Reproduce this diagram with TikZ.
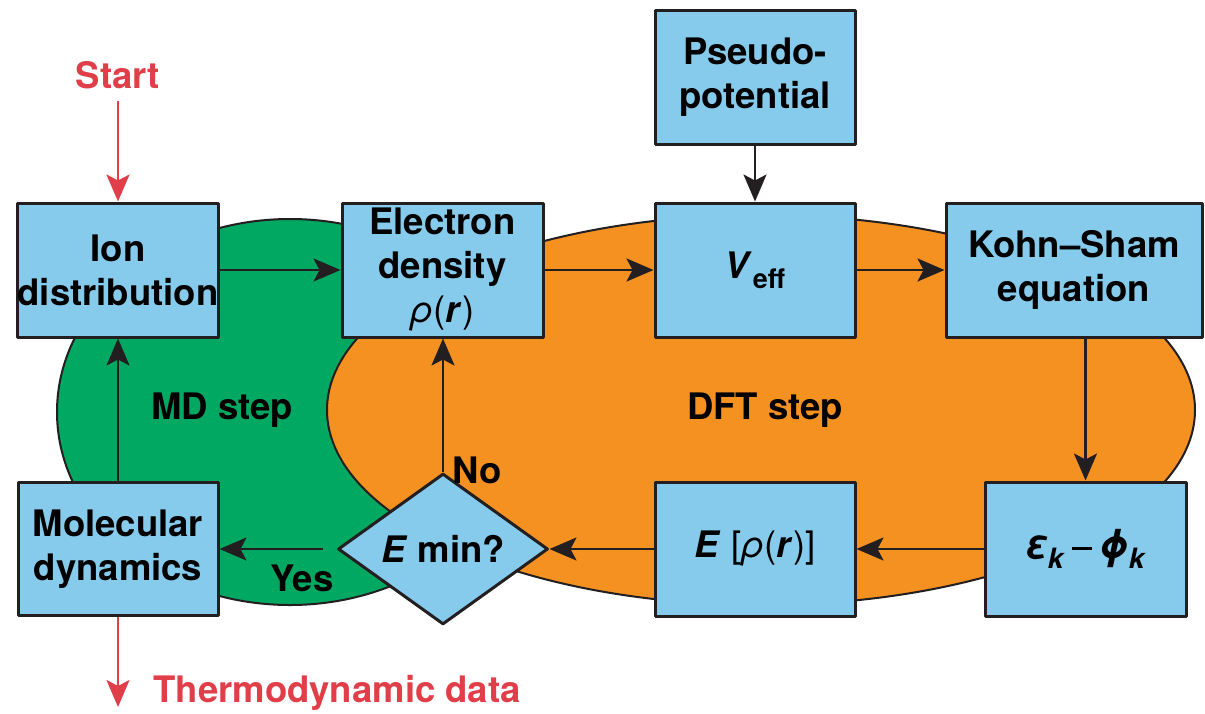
\documentclass[tikz,border=0pt]{standalone}
\usepackage{fontspec}
\setmainfont{TeX Gyre Heros}
\usetikzlibrary{arrows.meta,shapes.geometric}

\definecolor{boxblue}{RGB}{135,203,236}
\definecolor{mdgreen}{RGB}{0,168,98}
\definecolor{dftorange}{RGB}{245,145,32}
\definecolor{inkline}{RGB}{35,31,32}
\definecolor{startred}{RGB}{224,62,72}

\begin{document}
\begin{tikzpicture}[x=1pt, y=-1pt, line join=round,
  blk/.style={draw=inkline, line width=3pt, fill=boxblue, minimum width=200pt,
    minimum height=134pt, inner sep=0pt, align=center,
    font=\bfseries\fontsize{36.5}{44}\selectfont},
  ask/.style={diamond, draw=inkline, line width=3pt, fill=boxblue,
    minimum width=210pt, minimum height=123pt, inner sep=0pt,
    font=\bfseries\fontsize{36.5}{44}\selectfont},
  lbl/.style={font=\bfseries\fontsize{36.5}{44}\selectfont},
  flow/.style={draw=inkline, line width=2.5pt,
    -{Stealth[length=27pt,width=23pt,inset=6pt]}},
  redflow/.style={flow, draw=startred},
]

  %% ════ 两个区域（先绿后橙，橙色压在上面）════
  \draw[fill=mdgreen, draw=inkline, line width=2pt] (290,412) ellipse [x radius=233, y radius=193];
  \draw[fill=dftorange, draw=inkline, line width=2pt] (761,410) ellipse [x radius=434, y radius=195];

  %% ════ 方框 ════
  \node[blk] (ion) at (118,270) {Ion\\distribution};
  \node[blk, minimum width=201pt] (rho) at (442.5,270)
    {Electron\\density\\{\mdseries\itshape ρ}{\mdseries(}\textit{r}{\mdseries)}};
  \node[blk] (pp) at (755,77) {Pseudo-\\potential};
  \node[blk] (veff) at (755,270)
    {\textit{V}\raisebox{-0.28em}{\fontsize{27}{27}\selectfont eff}};
  \node[blk, minimum width=256pt] (ks) at (1074,270) {Kohn–Sham\\equation};
  \node[blk, minimum width=201pt] (eps) at (1085.5,549)
    {{\itshape\fontsize{40}{44}\selectfont ε}\raisebox{-0.25em}{\fontsize{28}{28}\selectfont\textit{k}}%
     \hspace{0.2em}\rule[0.25em]{0.55em}{0.08em}\hspace{0.2em}%
     {\itshape\fontsize{40}{44}\selectfont ϕ}\raisebox{-0.25em}{\fontsize{28}{28}\selectfont\textit{k}}};
  \node[blk] (en) at (755,549)
    {\textit{E} {\mdseries[\itshape ρ}{\mdseries(}\textit{r}{\mdseries)]}};
  \node[ask] (emin) at (443,549) {\textit{E} min?};
  \node[blk, minimum height=133pt] (md) at (118,549) {Molecular\\dynamics};

  %% ════ 文字标签 ════
  \node[lbl, text=startred] (start) at (118,75) {Start};
  \node[lbl, text=startred, anchor=west] (thermo) at (150,693) {Thermodynamic data};
  \node[lbl] (mdstep) at (222,410) {MD step};
  \node[lbl] (dftstep) at (765,410) {DFT step};
  \node[lbl] (no) at (477,470) {No};
  \node[lbl] (yes) at (302,578) {Yes};
  \coordinate (thend) at (118,707);

  %% ════ 箭头 ════
  \draw[redflow, shorten <=9pt] (start) -- (ion);
  \draw[redflow] (md) -- (thend);
  \draw[flow] (ion) -- (rho);
  \draw[flow] (rho) -- (veff);
  \draw[flow] (veff) -- (ks);
  \draw[flow] (pp) -- (veff);
  \draw[flow] (ks.south -| eps.north) -- (eps.north);
  \draw[flow] (eps) -- (en);
  \draw[flow] (en) -- (emin);
  \draw[flow, shorten <=14pt] (emin) -- (md);
  \draw[flow] (emin) -- (emin |- rho.south);
  \draw[flow] (md) -- (ion);

  % 固定画布大小
  \pgfresetboundingbox
  \path[use as bounding box] (0,0) rectangle (1205,713);
\end{tikzpicture}
\end{document}
